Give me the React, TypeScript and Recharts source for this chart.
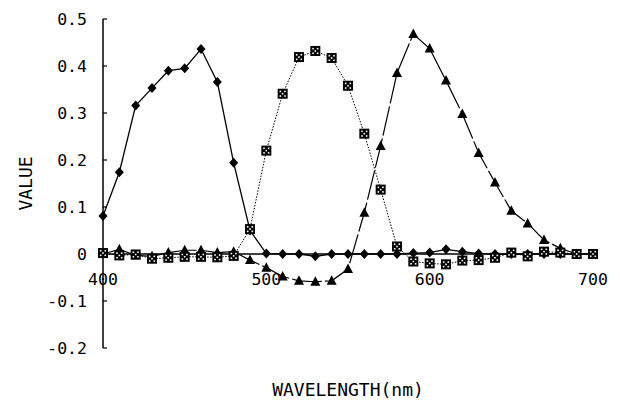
import { LineChart, Line, XAxis, YAxis, ReferenceLine, ReferenceDot } from 'recharts'

const wavelengths = [
    400, 410, 420, 430, 440, 450, 460, 470, 480, 490, 500, 510, 520, 530, 540, 550,
    560, 570, 580, 590, 600, 610, 620, 630, 640, 650, 660, 670, 680, 690, 700,
]

const diamondValues = [
    0.081, 0.174, 0.316, 0.353, 0.39, 0.395, 0.436, 0.366, 0.194, 0.05, 0.001, 0.0, 0.0, -0.005, 0.0, 0.0,
    0.0, 0.0, 0.0, 0.002, 0.003, 0.01, 0.005, 0.001, 0.0, 0.0, 0.0, 0.0, 0.0, 0.0, 0.0,
]

const squareValues = [
    0.002, -0.003, -0.001, -0.01, -0.008, -0.006, -0.006, -0.007, -0.004, 0.053, 0.22, 0.341, 0.419, 0.432, 0.417, 0.358,
    0.256, 0.137, 0.016, -0.016, -0.02, -0.022, -0.014, -0.013, -0.008, 0.003, -0.005, 0.005, 0.003, 0.0, 0.0,
]

const triangleValues = [
    0.0, 0.01, -0.003, -0.005, 0.003, 0.008, 0.008, 0.003, 0.005, -0.013, -0.029, -0.048, -0.057, -0.059, -0.057, -0.032,
    0.088, 0.23, 0.385, 0.468, 0.437, 0.369, 0.298, 0.215, 0.152, 0.092, 0.065, 0.03, 0.012, 0.0, 0.0,
]

const yTicks = [0.5, 0.4, 0.3, 0.2, 0.1, 0, -0.1, -0.2]
const xTicks = [400, 500, 600, 700]

const data = wavelengths.map((w, i) => ({
    w,
    diamond: diamondValues[i],
    square: squareValues[i],
    triangle: triangleValues[i],
}))

const FONT = '"DejaVu Sans Mono", monospace'

function DiamondDot(props: any) {
    const { cx, cy, index } = props
    return (
        <polygon
            key={`dm-${index}`}
            points={`${cx},${cy - 5} ${cx + 4.5},${cy} ${cx},${cy + 5} ${cx - 4.5},${cy}`}
            fill="#000"
        />
    )
}

function SquareDot(props: any) {
    const { cx, cy, index } = props
    const spots = [[-2.3, -2.3], [2.3, -2.3], [0, 0], [-2.3, 2.3], [2.3, 2.3]]
    return (
        <g key={`sq-${index}`}>
            <rect x={cx - 5} y={cy - 5} width={10} height={10} fill="#000" />
            {spots.map(([dx, dy], j) => (
                <rect key={j} x={cx + dx - 0.8} y={cy + dy - 0.8} width={1.6} height={1.6} fill="#fff" />
            ))}
        </g>
    )
}

function TriangleDot(props: any) {
    const { cx, cy, index } = props
    return (
        <polygon
            key={`tr-${index}`}
            points={`${cx},${cy - 5.5} ${cx + 5},${cy + 4} ${cx - 5},${cy + 4}`}
            fill="#000"
        />
    )
}

export default function App() {
    return (
        <div style={{ position: 'absolute', left: 0, top: 0, width: 620, height: 402, background: '#fff' }}>
            <LineChart width={620} height={402} data={data} margin={{ top: 19, right: 27, bottom: 0, left: 0 }}>
                <XAxis
                    dataKey="w"
                    type="number"
                    domain={[400, 700]}
                    ticks={xTicks}
                    tick={false}
                    axisLine={false}
                    tickLine={false}
                    height={54}
                    label={{
                        value: 'WAVELENGTH(nm)',
                        position: 'insideBottom',
                        offset: 6,
                        style: { fontFamily: FONT, fontSize: 18, fill: '#000' },
                    }}
                />
                <YAxis
                    type="number"
                    domain={[-0.2, 0.5]}
                    ticks={yTicks}
                    interval={0}
                    width={103}
                    tickSize={-4}
                    tickMargin={20}
                    tickFormatter={(v: number) => (v === 0 ? '0' : v.toFixed(1))}
                    tick={{ fontFamily: FONT, fontSize: 16.5, fill: '#000' }}
                    axisLine={{ stroke: '#000', strokeWidth: 1.5 }}
                    tickLine={{ stroke: '#000', strokeWidth: 1.2 }}
                    label={{
                        value: 'VALUE',
                        angle: -90,
                        position: 'insideLeft',
                        offset: 26,
                        style: { fontFamily: FONT, fontSize: 18, fill: '#000', textAnchor: 'middle' },
                    }}
                />
                <ReferenceLine y={0} stroke="#000" strokeWidth={1.5} />
                {xTicks.map((t) => (
                    <ReferenceDot
                        key={t}
                        x={t}
                        y={0}
                        r={0}
                        fill="none"
                        stroke="none"
                        label={{
                            value: String(t),
                            position: 'bottom',
                            offset: 19,
                            style: { fontFamily: FONT, fontSize: 16.5, fill: '#000' },
                        }}
                    />
                ))}
                <Line
                    dataKey="diamond"
                    stroke="#000"
                    strokeWidth={1.3}
                    dot={DiamondDot}
                    isAnimationActive={false}
                />
                <Line
                    dataKey="triangle"
                    stroke="#000"
                    strokeWidth={1.2}
                    strokeDasharray="30 3"
                    dot={TriangleDot}
                    isAnimationActive={false}
                />
                <Line
                    dataKey="square"
                    stroke="#000"
                    strokeWidth={1}
                    strokeDasharray="1.5 1.5"
                    dot={SquareDot}
                    isAnimationActive={false}
                />
            </LineChart>
        </div>
    )
}
